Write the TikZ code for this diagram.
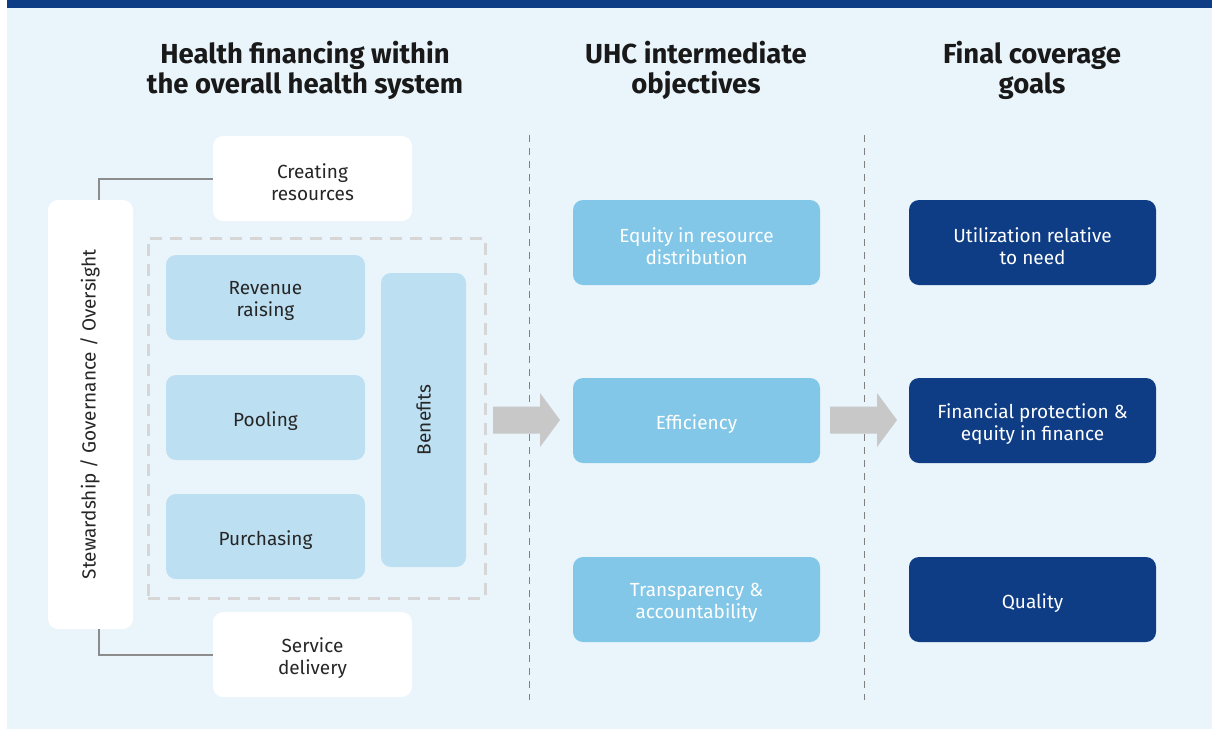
\documentclass[tikz,border=0pt]{standalone}
\usepackage{fontspec}
\setmainfont{Fira Sans}
\definecolor{navy}{HTML}{0F3D85}
\definecolor{pagebg}{HTML}{E9F4FB}
\definecolor{palebox}{HTML}{BCDFF1}
\definecolor{midbox}{HTML}{82C7E7}
\definecolor{linkgray}{HTML}{8C8C8C}
\definecolor{arrowgray}{HTML}{C8C8C8}
\definecolor{dashgray}{HTML}{D6D6D6}
\definecolor{sepgray}{HTML}{808080}
\tikzset{
  box/.style={rounded corners=10pt, inner sep=0pt},
  boxtext/.style={align=center, inner sep=0pt, font=\fontsize{19}{22}\selectfont},
  whitebox/.style={box, fill=white},
  palenode/.style={box, fill=palebox},
  midnode/.style={box, fill=midbox},
  navynode/.style={box, fill=navy},
  darktext/.style={boxtext, text=black!85},
  lighttext/.style={boxtext, text=white},
  heading/.style={align=center, font=\fontsize{27.5}{30}\selectfont\bfseries, text=black!90},
  link/.style={draw=linkgray, line width=2pt},
  sep/.style={draw=sepgray, line width=0.9pt, dash pattern=on 7pt off 6pt},
}
% a rounded box with its caption set slightly below the middle
\newcommand{\cardnode}[8]{% box style, text style, name, x, y, width, height, text
  \node[#1, minimum width=#6pt, minimum height=#7pt] (#3) at (#4,#5) {};
  \node[#2] (#3txt) at ([yshift=-3.5pt]#3.center) {#8};}
% block arrow pointing right, tip at the given coordinate
\newcommand{\flowarrow}[1]{%
  \fill[arrowgray] ([shift={(-67,-13.5)}]#1) -- ([shift={(-20,-13.5)}]#1) -- ([shift={(-20,-27)}]#1)
    -- (#1) -- ([shift={(-20,27)}]#1) -- ([shift={(-20,13.5)}]#1) -- ([shift={(-67,13.5)}]#1) -- cycle;}
\begin{document}
\begin{tikzpicture}[x=1pt, y=-1pt]
\useasboundingbox (0,0) rectangle (1212,729);
\fill[white] (0,0) rectangle (1212,729);
\fill[pagebg] (7,0) rectangle (1212,729);
\fill[navy] (7,0) rectangle (1212,7.5);

% column headings
\node[heading] (h1) at (305,70.5) {Health financing within\\the overall health system};
\node[heading] (h2) at (696,70.5) {UHC intermediate\\objectives};
\node[heading] (h3) at (1032,70.5) {Final coverage\\goals};

% column separators
\coordinate (s1t) at (529,135); \coordinate (s1b) at (529,700);
\coordinate (s2t) at (864,135); \coordinate (s2b) at (864,700);
\draw[sep] (s1t) -- (s1b);
\draw[sep] (s2t) -- (s2b);

% health system functions
\cardnode{whitebox}{darktext}{create}{312.5}{178.5}{199}{85}{Creating\\resources}
\cardnode{whitebox}{darktext}{deliver}{312.5}{654.5}{199}{85}{Service\\delivery}
\node[whitebox, minimum width=85pt, minimum height=429pt] (steward) at (90.5,414.5) {};
\node[darktext, rotate=90] (stewardtxt) at ([xshift=-0.5pt]steward.center) {Stewardship / Governance / Oversight};

\draw[link] (steward.north -| 99,0) |- (create.west);
\draw[link] (steward.south -| 99,0) |- (deliver.west);

% health financing functions
\node[draw=dashgray, line width=3pt, dash pattern=on 12pt off 8pt, minimum width=337pt, minimum height=360pt, inner sep=0pt] (finance) at (316.5,418) {};
\cardnode{palenode}{darktext}{revenue}{265.5}{297.5}{199}{85}{Revenue\\raising}
\cardnode{palenode}{darktext}{pooling}{265.5}{417.5}{199}{85}{Pooling}
\cardnode{palenode}{darktext}{purchase}{265.5}{536.5}{199}{85}{Purchasing}
\node[palenode, minimum width=85pt, minimum height=294pt] (benefits) at (423.5,420) {};
\node[darktext, rotate=90] (benefitstxt) at (benefits.center) {Benefits};

% intermediate objectives
\cardnode{midnode}{lighttext}{equity}{696.5}{242.5}{247}{85}{Equity in resource\\distribution}
\cardnode{midnode}{lighttext}{effic}{696.5}{420.5}{247}{85}{Efficiency}
\cardnode{midnode}{lighttext}{transp}{696.5}{599.5}{247}{85}{Transparency \&\\accountability}

% final goals
\cardnode{navynode}{lighttext}{util}{1032.5}{242.5}{247}{85}{Utilization relative\\to need}
\cardnode{navynode}{lighttext}{protect}{1032.5}{420.5}{247}{85}{Financial protection \&\\equity in finance}
\cardnode{navynode}{lighttext}{quality}{1032.5}{599.5}{247}{85}{Quality}

% flow arrows
\coordinate (tip1) at (560,420);
\coordinate (tip2) at (897,420);
\flowarrow{tip1}
\flowarrow{tip2}
\end{tikzpicture}
\end{document}
